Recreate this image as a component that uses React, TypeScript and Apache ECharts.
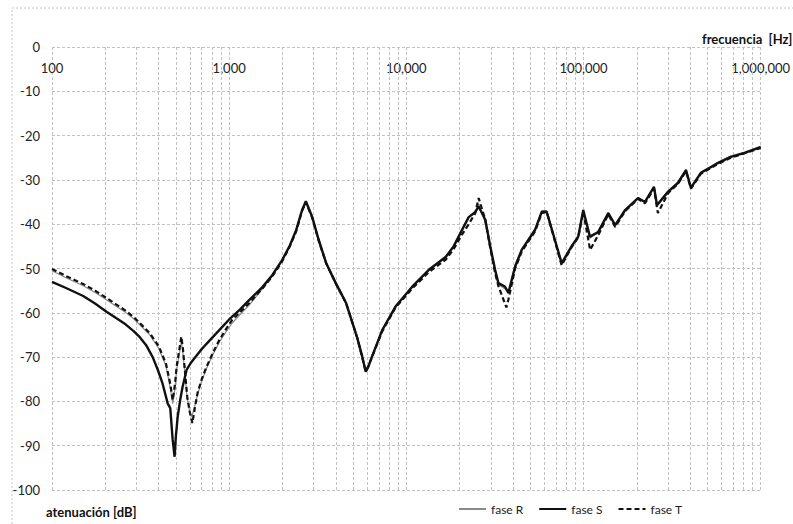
import React, { useEffect, useRef } from "react";
import * as echarts from "echarts";

const xTicks = [100, 1000, 10000, 100000, 1000000];
const xTickLabels = ["100", "1,000", "10,000", "100,000", "1,000,000"];
const minorFreqs = [
  200, 300, 400, 500, 600, 700, 800, 900,
  2000, 3000, 4000, 5000, 6000, 7000, 8000, 9000,
  20000, 30000, 40000, 50000, 60000, 70000, 80000, 90000,
  200000, 300000, 400000, 500000, 600000, 700000, 800000, 900000,
];

const freqR = [100, 120, 150, 175, 204, 230, 260, 290, 313, 356, 400, 440, 465, 480, 495, 505, 537, 548, 560, 580, 600, 615, 640, 663, 700, 745, 810, 881, 960, 1040, 1170, 1300, 1540, 1750, 1990, 2200, 2390, 2580, 2710, 2800, 2940, 3200, 3530, 4000, 4570, 5270, 5640, 5900, 6100, 6400, 7310, 8690, 10800, 13400, 16700, 18500, 20500, 22500, 24500, 25600, 27900, 29800, 31700, 33100, 36000, 37700, 41100, 44800, 53300, 58100, 62000, 75300, 85300, 93400, 99700, 108700, 121000, 138000, 151000, 172000, 203000, 222000, 250000, 260000, 300000, 341000, 379000, 404000, 460000, 520000, 573000, 678000, 813000, 1000000];
const valR = [-50.5, -52.1, -53.9, -55.4, -57.1, -58.5, -59.9, -61.4, -62.7, -65.0, -68, -72, -77, -80.5, -77, -73, -66.5, -69, -73, -79.5, -82.5, -83.5, -81, -78.5, -75.4, -72.6, -69.4, -66.6, -64.3, -62.3, -60.1, -58.2, -54.6, -51.7, -48.3, -45.0, -41.5, -37.0, -35.2, -36.6, -38.6, -44, -49, -53.6, -58, -65.7, -70, -73, -72, -69.7, -63.8, -58.5, -54.0, -50.2, -47.2, -44.8, -41.3, -38.4, -37.0, -35.5, -39.5, -45.4, -50.6, -53.6, -54.6, -55.2, -49.2, -45.6, -41.0, -37.0, -37.0, -49.0, -45.0, -42.6, -37.0, -43.2, -41.6, -37.4, -40.0, -36.6, -34.0, -34.8, -31.5, -35.4, -32.5, -30.5, -27.6, -31.5, -28.2, -27.0, -26.0, -24.6, -23.7, -22.4];

const freqS = [100, 120, 150, 175, 204, 230, 260, 290, 313, 340, 370, 395, 421, 450, 465, 480, 492, 500, 512, 530, 546, 575, 610, 650, 700, 745, 848, 1000, 1150, 1300, 1540, 1750, 1990, 2200, 2390, 2580, 2710, 2800, 2940, 3200, 3530, 4000, 4570, 5270, 5640, 5900, 6100, 6400, 7310, 8690, 10800, 13400, 16700, 18500, 20500, 22500, 24500, 25600, 27900, 29800, 31700, 33100, 36000, 37700, 41100, 44800, 53300, 58100, 62000, 75300, 85300, 93400, 99700, 108700, 121000, 138000, 151000, 172000, 203000, 222000, 250000, 260000, 300000, 341000, 379000, 404000, 460000, 520000, 573000, 678000, 813000, 1000000];
const valS = [-53.0, -54.4, -56.2, -57.9, -59.8, -61.2, -62.6, -64.2, -65.5, -67.3, -70.0, -72.8, -76, -80.5, -81.5, -88.7, -92.5, -88, -83.5, -79.5, -76.7, -72.9, -71.2, -69.8, -68.2, -67, -64.6, -61.5, -59.3, -57.1, -54.2, -51.5, -48.1, -44.8, -41.3, -36.8, -34.8, -36.2, -38.3, -43.5, -48.8, -53.3, -57.8, -65.5, -69.9, -73.3, -72.2, -69.9, -63.9, -58.6, -54.1, -50.3, -47.4, -45.0, -41.5, -38.4, -37.3, -36.0, -39, -45.1, -50.3, -53.3, -54.1, -55.5, -49.6, -45.8, -41.3, -37.2, -37.2, -48.8, -45.1, -42.8, -36.8, -42.8, -41.8, -37.5, -40.2, -36.8, -34.1, -35.0, -31.6, -35.7, -32.7, -30.7, -27.8, -31.8, -28.4, -27.2, -26.2, -24.8, -23.9, -22.6];

const freqT = [100, 120, 150, 175, 204, 230, 260, 290, 313, 356, 400, 440, 465, 480, 495, 505, 537, 548, 560, 580, 600, 620, 640, 663, 700, 745, 810, 881, 960, 1040, 1170, 1300, 1540, 1750, 1990, 2200, 2390, 2580, 2710, 2800, 2940, 3200, 3530, 4000, 4570, 5270, 5640, 5900, 6100, 6400, 7310, 8690, 10800, 13400, 16700, 18500, 20500, 22500, 24500, 25600, 27900, 29800, 31700, 33100, 36700, 37700, 41100, 44800, 53300, 58100, 62000, 75300, 85300, 93400, 99700, 109000, 121000, 138000, 151000, 172000, 203000, 222000, 250000, 263000, 300000, 341000, 379000, 404000, 460000, 520000, 573000, 678000, 813000, 1000000];
const valT = [-50.1, -51.7, -53.5, -55.0, -56.7, -58.1, -59.5, -61.0, -62.3, -64.6, -67.5, -71.5, -76, -79.7, -76, -72.2, -65.4, -68, -72.2, -79, -82.5, -84.9, -81.5, -78.1, -75, -72.2, -69, -66.1, -63.7, -61.6, -59.6, -57.8, -54.5, -51.8, -48.4, -45.0, -41.6, -37.0, -35.0, -36.4, -38.5, -43.7, -48.8, -53.4, -57.8, -65.5, -70.1, -73.3, -72.0, -70, -64.2, -58.8, -54.5, -50.8, -48.0, -45.6, -42.5, -40.0, -37.5, -34.1, -39, -45.5, -51, -54, -58.8, -57, -50, -46.2, -41.6, -37.5, -37.2, -49.3, -45.3, -43, -37.2, -45.8, -42.5, -37.8, -40.6, -37, -34.3, -35.3, -32, -37.5, -33, -30.9, -28, -32, -28.6, -27.4, -26.4, -25, -24, -22.8];

const FONT = "Lato, 'Noto Sans', sans-serif";

function pairs(f: number[], v: number[]) {
  return f.map((x, i) => [x, v[i]]);
}

export default function App() {
  const ref = useRef<HTMLDivElement>(null);
  useEffect(() => {
    if (!ref.current) return;
    const chart = echarts.init(ref.current, undefined, { renderer: "svg" });
    const gridLine = { color: "#c2c2c2", type: [3, 2] as any, width: 1 };
    chart.setOption({
      animation: false,
      backgroundColor: "#ffffff",
      textStyle: { fontFamily: FONT },
      grid: { left: 52, right: 30, top: 47, bottom: 34 },
      xAxis: {
        type: "log",
        logBase: 10,
        min: 100,
        max: 1000000,
        position: "top",
        axisLine: { show: false },
        axisTick: { show: false },
        axisLabel: {
          inside: true,
          margin: 14,
          fontSize: 13,
          color: "#222",
          fontFamily: FONT,
          showMinLabel: true,
          showMaxLabel: true,
          formatter: (v: number) => {
            const i = xTicks.findIndex((t) => Math.abs(t - v) / t < 1e-6);
            return i >= 0 ? xTickLabels[i] : "";
          },
        },
        splitLine: { show: true, lineStyle: gridLine },
      },
      yAxis: {
        type: "value",
        min: -100,
        max: 0,
        interval: 10,
        axisLine: { show: false },
        axisTick: { show: false },
        axisLabel: { margin: 12, fontSize: 13, color: "#222", fontFamily: FONT },
        splitLine: { show: true, lineStyle: gridLine },
      },
      legend: {
        left: 453,
        top: 498,
        itemWidth: 27,
        itemHeight: 12,
        itemGap: 15,
        itemStyle: { opacity: 0 },
        textStyle: { fontSize: 12, color: "#222", fontFamily: FONT },
        data: ["fase R", "fase S", "fase T"],
      },
      graphic: [
        {
          type: "rect",
          silent: true,
          shape: { x: 12, y: 8, width: 800, height: 600 },
          style: { fill: "none", stroke: "#c4c4c4", lineWidth: 1, lineDash: [2, 2] },
        },
        {
          type: "text",
          left: 702,
          top: 32,
          style: { text: "frecuencia  [Hz]", fill: "#111", font: "bold 13px " + FONT },
        },
        {
          type: "text",
          left: 46,
          top: 505,
          style: { text: "atenuación [dB]", fill: "#111", font: "bold 13px " + FONT },
        },
      ],
      series: [
        {
          name: "fase R",
          type: "line",
          data: pairs(freqR, valR),
          symbol: "none",
          lineStyle: { color: "#8a8a8a", width: 1.2 },
          itemStyle: { color: "#8a8a8a" },
          z: 2,
          markLine: {
            silent: true,
            symbol: "none",
            label: { show: false },
            lineStyle: { color: "#c2c2c2", type: [3, 2] as any, width: 1 },
            data: minorFreqs.map((f) => ({ xAxis: f })),
            z: 1,
          },
        },
        {
          name: "fase S",
          type: "line",
          data: pairs(freqS, valS),
          symbol: "none",
          lineStyle: { color: "#111", width: 2.4 },
          itemStyle: { color: "#111" },
          z: 3,
        },
        {
          name: "fase T",
          type: "line",
          data: pairs(freqT, valT),
          symbol: "none",
          lineStyle: { color: "#111", width: 2.2, type: [5, 3] as any },
          itemStyle: { color: "#111" },
          z: 4,
        },
      ],
    });
    return () => chart.dispose();
  }, []);
  return (
    <div
      ref={ref}
      style={{ position: "fixed", left: 0, top: 0, width: 793, height: 524, background: "#fff" }}
    />
  );
}
